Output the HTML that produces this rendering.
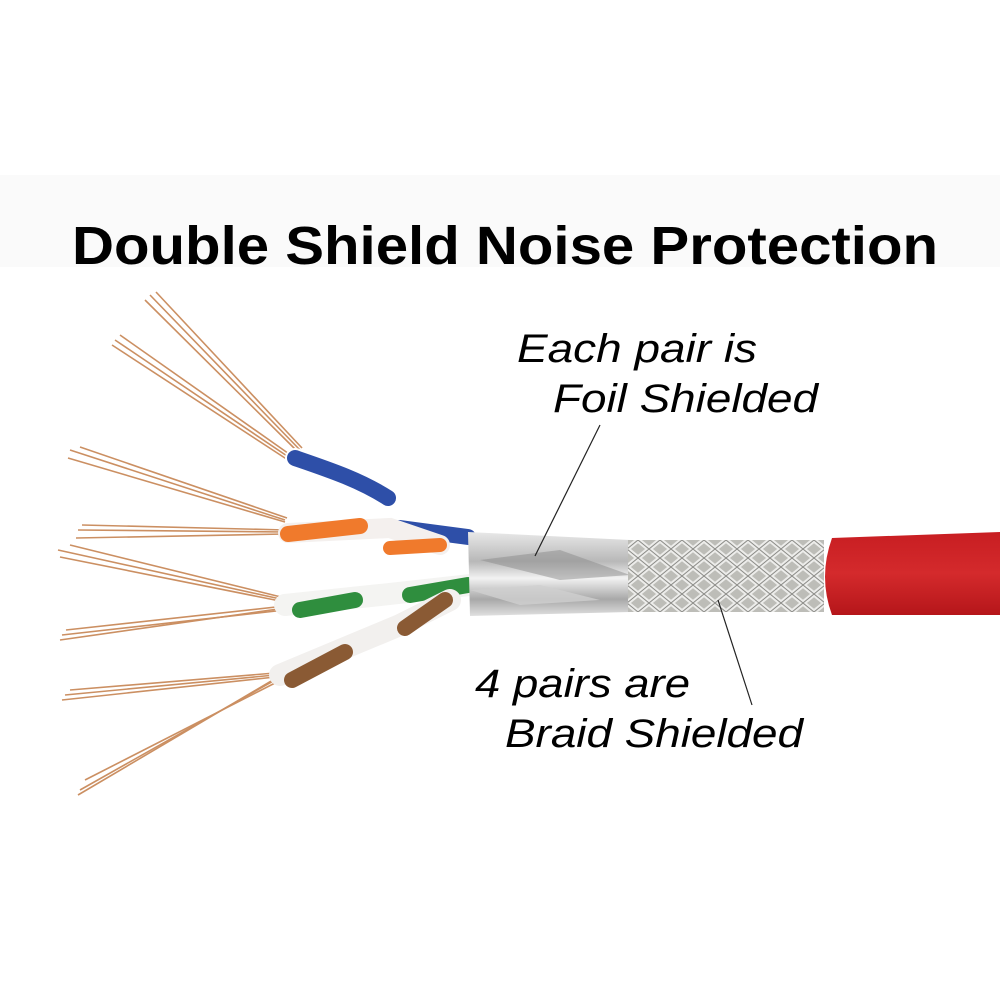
<!DOCTYPE html>
<html><head><meta charset="utf-8"><style>
html,body{margin:0;padding:0;background:#fff;}
svg{display:block}
</style></head><body>
<svg width="1000" height="1000" viewBox="0 0 1000 1000" xmlns="http://www.w3.org/2000/svg">
<defs>
<linearGradient id="red" x1="0" y1="0" x2="0" y2="1">
<stop offset="0" stop-color="#c81e22"/><stop offset="0.5" stop-color="#d42a2c"/><stop offset="1" stop-color="#b5161a"/></linearGradient>
<linearGradient id="foil" x1="0" y1="0" x2="0" y2="1">
<stop offset="0" stop-color="#e8e8e8"/><stop offset="0.35" stop-color="#b8b8b8"/><stop offset="0.55" stop-color="#f2f2f2"/><stop offset="0.8" stop-color="#a8a8a8"/><stop offset="1" stop-color="#e0e0e0"/></linearGradient>
<pattern id="braid" width="22" height="18" patternUnits="userSpaceOnUse">
<rect width="22" height="18" fill="#bdbdb8"/>
<path d="M0 0 L11 9 L0 18 M22 0 L11 9 L22 18" stroke="#ececea" stroke-width="5" fill="none"/>
<path d="M0 0 L11 9 L0 18 M22 0 L11 9 L22 18" stroke="#8a8a86" stroke-width="1" fill="none"/>
</pattern>
</defs>
<rect x="0" y="175" width="1000" height="92" fill="#fafafa"/>
<text x="72" y="264" textLength="866" lengthAdjust="spacingAndGlyphs" font-family="Liberation Sans, sans-serif" font-weight="bold" font-size="54" fill="#000">Double Shield Noise Protection</text>

<g stroke="#c98a5a" stroke-width="1.6" fill="none" opacity="0.95">
<path d="M300 450 L150 295"/><path d="M298 452 L145 300"/><path d="M302 448 L156 292"/>
<path d="M290 458 L115 340"/><path d="M292 456 L120 335"/><path d="M288 460 L112 345"/>
<path d="M285 520 L70 450"/><path d="M285 522 L68 458"/><path d="M287 518 L80 447"/>
<path d="M285 532 L78 530"/><path d="M285 534 L76 538"/><path d="M285 530 L82 525"/>
<path d="M285 600 L58 550"/><path d="M285 602 L60 557"/><path d="M285 598 L70 545"/>
<path d="M285 608 L60 640"/><path d="M285 610 L62 635"/><path d="M285 606 L66 630"/>
<path d="M275 675 L65 695"/><path d="M275 677 L62 700"/><path d="M275 673 L70 690"/>
<path d="M275 680 L80 790"/><path d="M277 682 L85 780"/><path d="M273 680 L78 795"/>
</g>

<path d="M295 458 C330 470 360 480 390 500 L420 525 L470 537" stroke="#fff" stroke-width="20" fill="none" stroke-linecap="round"/>
<path d="M295 458 C330 470 360 480 388 498" stroke="#2e4fa8" stroke-width="16" fill="none" stroke-linecap="round"/>
<path d="M400 528 L468 537" stroke="#2e4fa8" stroke-width="16" fill="none" stroke-linecap="round"/>
<path d="M288 533 L390 528 L440 545" stroke="#f4f0ee" stroke-width="20" fill="none" stroke-linecap="round"/>
<path d="M288 534 L360 526" stroke="#f07a2c" stroke-width="16" fill="none" stroke-linecap="round"/>
<path d="M390 548 L440 545" stroke="#f07a2c" stroke-width="14" fill="none" stroke-linecap="round"/>
<path d="M285 605 L380 595 L470 585" stroke="#f4f4f2" stroke-width="22" fill="none" stroke-linecap="round"/>
<path d="M300 610 L355 600" stroke="#2f8e3e" stroke-width="16" fill="none" stroke-linecap="round"/>
<path d="M410 595 L468 585" stroke="#2f8e3e" stroke-width="16" fill="none" stroke-linecap="round"/>
<path d="M280 675 L340 650 L400 625 L450 600" stroke="#f2f0ee" stroke-width="22" fill="none" stroke-linecap="round"/>
<path d="M292 680 L345 652" stroke="#8a5a34" stroke-width="16" fill="none" stroke-linecap="round"/>
<path d="M405 628 L445 600" stroke="#8a5a34" stroke-width="16" fill="none" stroke-linecap="round"/>

<path d="M468 532 L630 540 L630 612 L470 616 Z" fill="url(#foil)"/>
<path d="M480 560 L560 550 L630 575 L560 580 Z" fill="#8c8c8c" opacity="0.5"/>
<path d="M470 590 L540 585 L600 600 L520 605 Z" fill="#d0d0d0" opacity="0.8"/>
<rect x="628" y="540" width="196" height="72" fill="url(#braid)"/>
<path d="M832 538 L1000 532 L1000 615 L832 615 Q818 577 832 538 Z" fill="url(#red)"/>

<line x1="600" y1="425" x2="535" y2="556" stroke="#222" stroke-width="1.2"/>
<line x1="718" y1="600" x2="752" y2="705" stroke="#222" stroke-width="1.2"/>

<g font-family="Liberation Sans, sans-serif" font-style="italic" font-size="40" fill="#000" lengthAdjust="spacingAndGlyphs">
<text x="517" y="362" textLength="240" lengthAdjust="spacingAndGlyphs">Each pair is</text>
<text x="553" y="412" textLength="265" lengthAdjust="spacingAndGlyphs">Foil Shielded</text>
<text x="475" y="697" textLength="215" lengthAdjust="spacingAndGlyphs">4 pairs are</text>
<text x="505" y="747" textLength="298" lengthAdjust="spacingAndGlyphs">Braid Shielded</text>
</g>
</svg>
</body></html>
